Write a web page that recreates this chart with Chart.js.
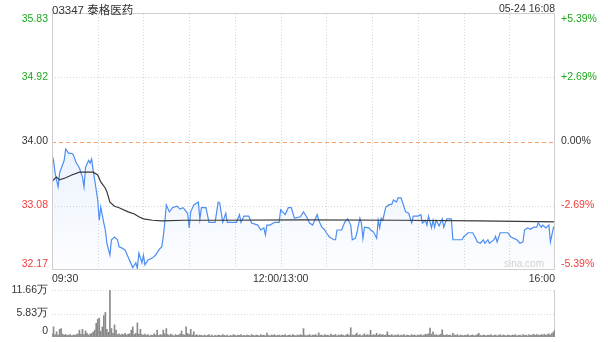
<!DOCTYPE html>
<html><head><meta charset="utf-8">
<script src="https://cdn.jsdelivr.net/npm/chart.js@4.4.1/dist/chart.umd.min.js"></script>
<style>
html,body{margin:0;padding:0;background:#fff;width:608px;height:342px;overflow:hidden}
#wrap{position:relative;width:608px;height:342px}
canvas{position:absolute;left:0}
#pc{top:0}
#vc{top:282px}
#title{position:absolute;left:52px;top:1px;font:11.5px "Liberation Sans","Noto Sans CJK SC",sans-serif;color:#333;white-space:nowrap}
#date{position:absolute;right:53px;top:2px;font:10.5px "Liberation Sans",sans-serif;color:#333;white-space:nowrap}
</style></head>
<body><div id="wrap">
<canvas id="pc" width="608" height="290"></canvas>
<canvas id="vc" width="608" height="60"></canvas>
<div id="title">03347 泰格医药</div>
<div id="date">05-24 16:08</div>
</div>
<script>
const FONT = '"Liberation Sans", Arial, sans-serif';
// minute offsets from 09:30 (trading minutes, lunch removed)
const times = [0,1,2,4,5,8,9,11,13,14,16,18,20,21,22,24,25,26,27,28,30,31,32,34,35,36,38,39,41,43,44,46,48,50,53,55,56,57,59,60,61,63,66,68,70,72,73,74,75,77,79,82,84,86,89,90,91,93,96,97,98,101,103,107,109,110,112,114,115,121,123,124,126,129,131,135,137,139,140,141,143,146,149,150,153,155,157,159,163,165,167,169,171,174,175,177,179,180,182,185,186,187,190,192,194,196,197,199,200,202,203,204,205,208,209,211,213,214,215,216,217,219,221,223,224,226,227,229,231,232,234,236,237,240,242,243,245,246,247,249,250,251,252,254,256,257,259,262,263,269,270,273,276,278,279,281,283,284,286,287,290,291,292,294,297,299,301,303,305,307,309,310,312,314,316,318,319,321,322,324,326,327,329,330];
const prices = [33.81,33.73,33.55,33.35,33.55,33.73,33.89,33.83,33.83,33.81,33.69,33.62,33.49,33.35,33.63,33.73,33.69,33.75,33.59,33.45,33.16,32.87,33.06,32.83,32.73,32.54,32.37,32.59,32.63,32.59,32.49,32.47,32.44,32.34,32.19,32.26,32.18,32.40,32.26,32.37,32.23,32.30,32.33,32.37,32.44,32.49,32.63,32.84,33.09,32.99,33.05,33.07,33.03,33.05,32.97,32.76,32.99,33.09,33.13,32.88,33.05,33.05,32.84,32.84,33.13,33.12,32.84,32.97,32.84,32.84,32.95,32.84,32.93,32.93,32.83,32.80,32.73,32.76,32.66,32.80,32.80,32.84,32.84,33.02,32.95,33.05,33.05,32.90,32.92,32.99,32.92,32.83,32.80,32.95,32.87,32.77,32.73,32.69,32.63,32.59,32.59,32.73,32.73,32.84,32.89,32.80,32.59,32.61,32.69,32.90,32.83,32.61,32.77,32.76,32.73,32.70,32.61,32.87,32.76,32.90,32.87,33.06,33.09,33.10,33.16,33.13,33.19,33.19,33.06,32.99,32.97,32.83,32.93,32.93,32.95,32.83,32.87,32.80,32.93,32.76,32.87,32.77,32.87,32.79,32.89,32.77,32.89,32.89,32.59,32.59,32.63,32.69,32.69,32.61,32.56,32.54,32.59,32.54,32.59,32.54,32.59,32.64,32.56,32.69,32.69,32.69,32.63,32.61,32.59,32.54,32.56,32.73,32.76,32.74,32.77,32.77,32.83,32.77,32.80,32.76,32.80,32.56,32.77,32.79];
const avgTimes = [0,3,5,9,13,18,22,27,30,32,35,36,38,41,44,50,54,57,60,66,72,87,110,163,228,280,330];
const avgPrices = [33.43,33.49,33.45,33.48,33.52,33.56,33.56,33.56,33.52,33.42,33.33,33.28,33.13,33.07,33.05,32.99,32.96,32.92,32.89,32.87,32.86,32.87,32.87,32.875,32.87,32.86,32.845];
// volume per minute, unit: 万股
const volumes = [
0.8,2.5,0.6,1.3,0.5,1.9,2.1,0.7,0.5,0.6,
0.4,0.5,0.6,0.3,0.5,0.4,0.6,0.8,1.7,0.7,
1.9,0.6,1.5,0.9,0.5,0.7,0.9,1.2,1.7,3.4,
4.4,4.7,1.4,2.5,5.3,6.1,1.9,1.2,11.66,2.1,
0.9,3.0,1.7,0.6,0.8,0.5,0.7,0.6,0.9,0.5,
0.7,0.8,1.7,2.5,0.6,0.9,3.5,0.7,1.9,0.6,
0.5,0.7,0.4,0.6,0.3,0.5,0.4,0.8,0.5,1.7,
0.4,0.6,0.5,1.7,0.8,2.1,0.6,0.4,0.7,0.5,
0.3,0.6,0.4,0.5,0.7,1.5,0.6,0.5,2.5,0.9,
0.6,1.9,0.5,1.3,0.4,0.6,0.3,0.5,0.4,0.3,
0.5,0.3,0.4,0.6,0.3,0.5,0.2,0.4,0.3,0.5,
0.4,0.3,0.6,0.4,0.3,0.5,0.2,0.4,0.3,0.6,
0.4,0.3,0.5,0.4,0.6,0.3,0.4,0.3,0.5,0.4,
0.3,0.6,0.4,0.3,0.5,0.4,0.3,0.6,0.4,0.5,
0.3,1.0,0.4,0.3,0.5,0.4,0.6,0.3,0.4,0.5,
0.3,0.5,0.4,0.6,0.3,0.4,0.5,0.3,0.6,0.4,
0.3,0.5,0.4,0.6,0.4,2.1,0.5,0.3,0.4,0.6,
0.3,0.5,0.4,0.6,0.3,1.0,0.4,0.5,0.3,0.6,
0.4,0.5,0.3,0.7,0.4,0.5,0.6,0.3,0.5,0.4,
0.6,0.4,0.3,0.5,0.7,0.4,2.3,0.5,0.4,0.6,
1.0,0.4,0.6,0.3,0.5,0.8,0.4,0.6,0.5,1.7,
0.4,0.6,0.5,0.9,0.4,0.7,0.5,0.6,0.4,0.5,
1.3,0.5,0.4,0.6,0.3,0.5,0.4,0.6,0.3,0.5,
0.4,0.6,0.3,0.5,0.4,0.3,0.6,0.4,0.5,0.3,
0.5,0.4,0.6,0.3,0.5,0.7,0.6,0.8,2.2,0.7,
1.3,0.5,0.6,0.4,0.5,0.7,1.8,0.5,0.4,0.6,
0.4,0.5,0.3,0.9,0.5,0.4,0.6,0.3,0.5,0.4,
0.3,0.5,0.4,0.6,0.3,0.4,0.5,0.3,0.4,0.6,
0.9,0.4,0.3,0.5,0.4,0.3,0.5,0.4,0.6,0.3,
0.4,0.5,0.3,0.4,0.6,0.3,0.5,0.4,0.3,0.5,
0.4,0.3,0.5,0.4,0.6,0.3,0.4,0.5,0.3,0.6,
0.4,0.5,0.3,0.6,0.4,0.5,0.7,0.4,0.6,0.5,
0.4,0.6,0.5,0.7,0.4,0.6,0.8,0.5,0.9,1.3,
1.7];
const prevClose = 34.00;
const priceTicks = [32.17, 33.08, 34.00, 34.92, 35.83];
const priceLabels = ['32.17','33.08','34.00','34.92','35.83'];
const pctLabels = ['-5.39%','-2.69%','0.00%','+2.69%','+5.39%'];
const volTicks = [0, 5.83, 11.66];
const volLabels = ['0','5.83万','11.66万'];
const timeTicks = [0,30,60,90,120,150,180,210,240,270,300,330];
const timeLabels = {0:'09:30',150:'12:00/13:00',330:'16:00'};

const GREEN = '#1fa81f', RED = '#f03c3c', DARK = '#333333';
function tickColor(v){ return v > prevClose + 1e-9 ? GREEN : (v < prevClose - 1e-9 ? RED : DARK); }
function hline(ctx, x1, x2, y){ ctx.beginPath(); ctx.moveTo(x1,y); ctx.lineTo(x2,y); ctx.stroke(); }
function vline(ctx, x, y1, y2){ ctx.beginPath(); ctx.moveTo(x,y1); ctx.lineTo(x,y2); ctx.stroke(); }

const pricePlugin = {
  id:'pricePlugin',
  beforeDatasetsDraw(chart){
    const {ctx, chartArea:a, scales:{x,y}} = chart;
    ctx.save(); ctx.lineWidth = 1;
    ctx.strokeStyle = '#d6d6d6'; ctx.setLineDash([1,2]);
    timeTicks.forEach(t => { if (t===timeTicks[0] || t===timeTicks[timeTicks.length-1]) return;
      vline(ctx, Math.round(x.getPixelForValue(t))+0.5, a.top, a.bottom); });
    priceTicks.forEach((v,i) => { if (i===0 || i===priceTicks.length-1 || v===prevClose) return;
      hline(ctx, a.left, a.right, Math.round(y.getPixelForValue(v))+0.5); });
    ctx.restore();
  },
  afterDatasetsDraw(chart){
    const {ctx, chartArea:a, scales:{x,y}} = chart;
    ctx.save(); ctx.lineWidth = 1;
    ctx.strokeStyle = '#f5a36b'; ctx.setLineDash([4,3]);
    hline(ctx, a.left, a.right, Math.round(y.getPixelForValue(prevClose))+0.5);
    ctx.setLineDash([]); ctx.strokeStyle = '#cfcfcf';
    ctx.strokeRect(Math.round(a.left)+0.5, Math.round(a.top)-0.5, Math.round(a.right-a.left)-1, Math.round(a.bottom-a.top)+1);
    ctx.font = '10.5px ' + FONT; ctx.textBaseline = 'middle';
    priceTicks.forEach((v,i) => {
      let py = y.getPixelForValue(v);
      if (i === priceTicks.length-1) py += 5; else if (i === 0) py -= 5;
      ctx.fillStyle = tickColor(v);
      ctx.textAlign = 'right'; ctx.fillText(priceLabels[i], a.left - 4, py);
      ctx.textAlign = 'left'; ctx.fillText(pctLabels[i], a.right + 6, py);
    });
    ctx.fillStyle = '#d2d2d2'; ctx.textAlign = 'right'; ctx.font = '10px ' + FONT;
    ctx.fillText('sina.com', a.right - 11, a.bottom - 5);
    ctx.restore();
  }
};

new Chart(document.getElementById('pc'), {
  type:'line',
  data:{datasets:[
    {data: times.map((t,i)=>({x:t,y:prices[i]})), borderColor:'#4d8ef2', borderWidth:1.2, pointRadius:0, tension:0,
     fill:'start', order:2,
     backgroundColor: c => { const a = c.chart.chartArea; if (!a) return 'rgba(0,0,0,0)';
       const g = c.chart.ctx.createLinearGradient(0,a.top,0,a.bottom);
       g.addColorStop(0,'rgba(77,142,242,0.20)'); g.addColorStop(1,'rgba(77,142,242,0.02)'); return g; }},
    {data: avgTimes.map((t,i)=>({x:t,y:avgPrices[i]})), borderColor:'#383838', borderWidth:1.2, pointRadius:0, tension:0, fill:false, order:1}
  ]},
  options:{
    responsive:false, animation:false, devicePixelRatio:1,
    layout:{padding:{top:14,left:0,right:0,bottom:0}},
    plugins:{legend:{display:false}, tooltip:{enabled:false}},
    scales:{
      x:{type:'linear', min:0, max:330,
         afterBuildTicks: s => { s.ticks = timeTicks.map(v => ({value:v})); },
         afterFit: s => { s.height = 21; },
         grid:{display:false, drawTicks:false}, border:{display:false},
         ticks:{autoSkip:false, maxRotation:0, align:'inner', padding:4, color:DARK,
                font:{size:10.5, family:FONT}, callback: v => timeLabels[v] || ''}},
      y:{position:'left', min:32.17, max:35.83, afterFit: s => { s.width = 52; },
         ticks:{display:false}, grid:{display:false}, border:{display:false}},
      y2:{position:'right', min:32.17, max:35.83, afterFit: s => { s.width = 53; },
         ticks:{display:false}, grid:{display:false}, border:{display:false}}
    }
  },
  plugins:[pricePlugin]
});

const volPlugin = {
  id:'volPlugin',
  beforeDatasetsDraw(chart){
    const {ctx, chartArea:a, scales:{y}} = chart;
    ctx.save(); ctx.lineWidth = 1;
    ctx.strokeStyle = '#d6d6d6'; ctx.setLineDash([1,2]);
    volTicks.forEach(v => { if (v === 0) return; hline(ctx, a.left, a.right, Math.round(y.getPixelForValue(v))+0.5); });
    ctx.setLineDash([]); ctx.strokeStyle = '#cfcfcf';
    vline(ctx, Math.round(a.right)-0.5, a.top, a.bottom);
    ctx.font = '10.5px ' + FONT; ctx.textBaseline = 'middle'; ctx.textAlign = 'right'; ctx.fillStyle = DARK;
    volTicks.forEach((v,i) => { let py = y.getPixelForValue(v); if (v === 0) py -= 6; ctx.fillText(volLabels[i], a.left - 4, py); });
    ctx.restore();
  }
};

new Chart(document.getElementById('vc'), {
  type:'bar',
  data:{datasets:[{data: volumes.map((v,i)=>({x:i,y:v})), backgroundColor:'#8a8a8a', borderWidth:0, barThickness:1}]},
  options:{
    responsive:false, animation:false, devicePixelRatio:1,
    layout:{padding:{top:8,left:0,right:0,bottom:5}},
    plugins:{legend:{display:false}, tooltip:{enabled:false}},
    scales:{
      x:{type:'linear', min:0, max:330, offset:false, display:false},
      y:{position:'left', min:0, max:11.66, afterFit: s => { s.width = 52; },
         ticks:{display:false}, grid:{display:false}, border:{display:false}},
      y2:{position:'right', min:0, max:11.66, afterFit: s => { s.width = 53; },
         ticks:{display:false}, grid:{display:false}, border:{display:false}}
    }
  },
  plugins:[volPlugin]
});
</script>
</body></html>
